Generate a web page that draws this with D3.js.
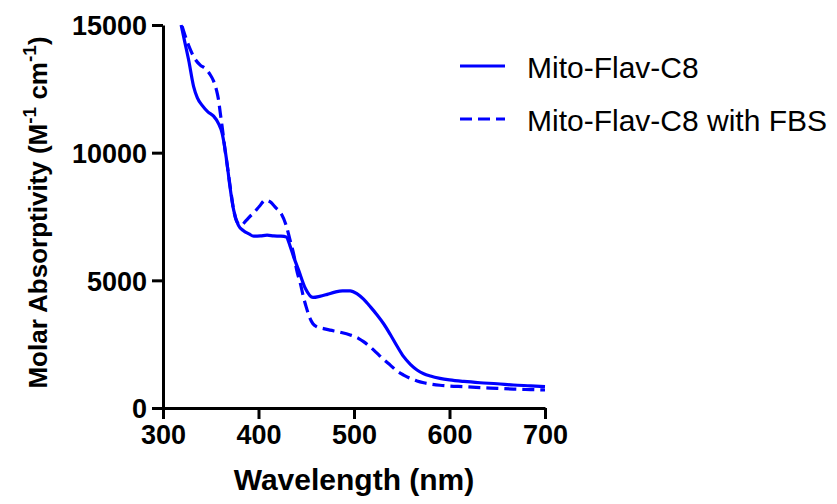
<!DOCTYPE html>
<html>
<head>
<meta charset="utf-8">
<script src="https://cdn.jsdelivr.net/npm/d3@7"></script>
<style>
  body { margin: 0; background: #fff; }
  svg text { font-family: 'Liberation Sans', Arial, Helvetica, sans-serif; }
</style>
</head>
<body>
<div id="chart"></div>
<script>
// wavelength (nm) and molar absorptivity
const wavelengthPlain = [319, 323, 327, 332, 336, 341, 347, 353, 358, 362, 367, 370, 374, 379, 384, 390, 395, 402, 409, 416, 423, 429, 433, 437, 442, 449, 457, 464, 472, 480, 488, 496, 503, 510, 517, 524, 531, 538, 545, 552, 559, 566, 573, 580, 590, 600, 615, 632, 650, 667, 685, 700];
const absorptivityPlain = [15000, 14300, 13600, 12600, 12150, 11850, 11600, 11430, 11150, 10750, 9600, 8700, 7750, 7150, 6950, 6820, 6730, 6740, 6770, 6740, 6730, 6700, 6350, 5900, 5400, 4690, 4330, 4370, 4450, 4540, 4590, 4590, 4480, 4260, 3970, 3650, 3300, 2880, 2430, 2010, 1710, 1490, 1340, 1250, 1160, 1100, 1040, 990, 950, 900, 870, 840];

const wavelengthFbs = [320, 323, 328, 333, 339, 344, 349, 353, 356, 358, 360, 362, 365, 368, 371, 374, 378, 382, 386, 391, 395, 401, 407, 412, 418, 424, 429, 433, 437, 440, 444, 447, 450, 453, 457, 461, 468, 475, 485, 496, 505, 510, 517, 524, 531, 538, 545, 552, 559, 566, 573, 580, 590, 600, 615, 632, 650, 667, 685, 700];
const absorptivityFbs = [14950, 14600, 14090, 13700, 13430, 13300, 13080, 12800, 12450, 12100, 11550, 11000, 10100, 9300, 8500, 7750, 7250, 7150, 7300, 7500, 7640, 7900, 8140, 8080, 7850, 7600, 7150, 6580, 6000, 5400, 4850, 4360, 3950, 3600, 3300, 3180, 3110, 3050, 2970, 2860, 2720, 2600, 2390, 2150, 1900, 1680, 1450, 1290, 1160, 1060, 990, 940, 890, 860, 835, 800, 770, 740, 720, 705];

const xTicks = [300, 400, 500, 600, 700];
const yTicks = [0, 5000, 10000, 15000];
const seriesNames = ['Mito-Flav-C8', 'Mito-Flav-C8 with FBS'];

const width = 837;
const height = 504;
const margin = { left: 163, right: 292, top: 25, bottom: 96 };
const blue = '#0000ff';

let series = [
  { name: seriesNames[0], dash: null, points: wavelengthPlain.map((w, i) => [w, absorptivityPlain[i]]) },
  { name: seriesNames[1], dash: '12,6', points: wavelengthFbs.map((w, i) => [w, absorptivityFbs[i]]) }
];

let svg = d3.select('#chart')
  .append('svg')
  .attr('width', width)
  .attr('height', height);

let x = d3.scaleLinear()
  .domain([300, 700])
  .range([margin.left, width - margin.right]);

let y = d3.scaleLinear()
  .domain([0, 15000])
  .range([height - margin.bottom, margin.top]);

let line = d3.line()
  .x(d => x(d[0]))
  .y(d => y(d[1]))
  .curve(d3.curveMonotoneX);

svg.selectAll('path.series')
  .data(series)
  .enter()
  .append('path')
  .attr('class', 'series')
  .attr('d', d => line(d.points))
  .attr('fill', 'none')
  .attr('stroke', blue)
  .attr('stroke-width', 3.2)
  .attr('stroke-dasharray', d => d.dash);

// axes
let xAxis = svg.append('g')
  .attr('transform', 'translate(0,' + y(0) + ')')
  .call(d3.axisBottom(x).tickValues(xTicks).tickSize(11).tickPadding(6).tickSizeOuter(0));

let yAxis = svg.append('g')
  .attr('transform', 'translate(' + x(300) + ',0)')
  .call(d3.axisLeft(y).tickValues(yTicks).tickFormat(d3.format('d')).tickSize(11).tickPadding(5).tickSizeOuter(0));

[xAxis, yAxis].forEach(axis => {
  axis.select('.domain').attr('stroke', '#000').attr('stroke-width', 3);
  axis.selectAll('.tick line').attr('stroke', '#000').attr('stroke-width', 3);
  axis.selectAll('.tick text')
    .attr('fill', '#000')
    .style('font-size', '27px')
    .style('font-weight', 'bold')
    .style('font-family', "'Liberation Sans', Arial, sans-serif");
});
yAxis.selectAll('.tick text').attr('dy', '0.36em');

// axis titles
svg.append('text')
  .attr('x', (x(300) + x(700)) / 2)
  .attr('y', 490)
  .attr('text-anchor', 'middle')
  .style('font-size', '30px')
  .style('font-weight', 'bold')
  .text('Wavelength (nm)');

let yTitle = svg.append('text')
  .attr('transform', 'translate(47,' + ((y(0) + y(15000)) / 2 - 4) + ') rotate(-90)')
  .attr('text-anchor', 'middle')
  .style('font-size', '26px')
  .style('font-weight', 'bold');
yTitle.append('tspan').text('Molar Absorptivity (M');
yTitle.append('tspan').attr('dy', -11).style('font-size', '19px').text('-1');
yTitle.append('tspan').attr('dy', 11).text(' cm');
yTitle.append('tspan').attr('dy', -11).style('font-size', '19px').text('-1');
yTitle.append('tspan').attr('dy', 11).text(')');

// legend
let legend = svg.selectAll('g.legend')
  .data(series)
  .enter()
  .append('g')
  .attr('class', 'legend')
  .attr('transform', (d, i) => 'translate(460,' + (66 + i * 53) + ')');

legend.append('line')
  .attr('x1', 0)
  .attr('x2', 45)
  .attr('stroke', blue)
  .attr('stroke-width', 3.2)
  .attr('stroke-dasharray', d => d.dash);

legend.append('text')
  .attr('x', 67)
  .attr('y', 12)
  .style('font-size', '30px')
  .text(d => d.name);
</script>
</body>
</html>
